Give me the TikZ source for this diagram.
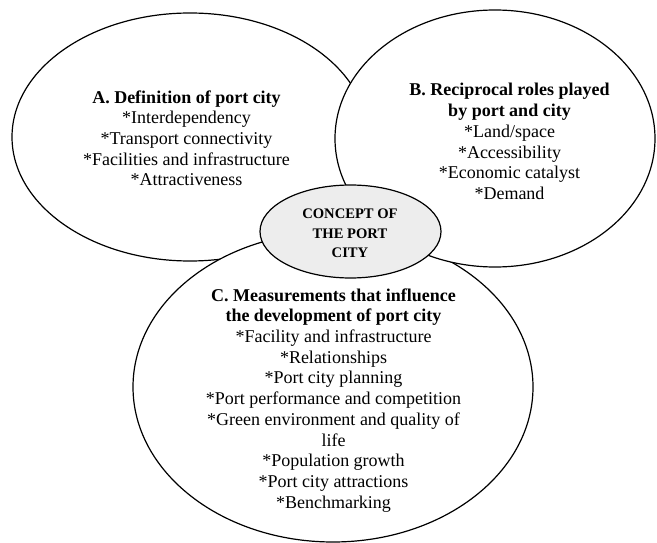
\documentclass[tikz,border=0pt]{standalone}
\usepackage{fontspec}
\setmainfont{Liberation Serif}
\newfontfamily\tnr{Liberation Serif}
\usetikzlibrary{shapes.geometric}
\begin{document}
\begin{tikzpicture}[x=1pt,y=-1pt,
  bubble/.style={draw=black, line width=1.2pt, ellipse, fill=white, inner sep=0pt, outer sep=0pt},
  bodytext/.style={align=center, inner sep=0pt, font=\tnr\fontsize{18}{20.7}\selectfont},
  coretext/.style={align=center, inner sep=0pt, font=\tnr\fontsize{14.6}{19.5}\selectfont\bfseries}]
\useasboundingbox (0,0) rectangle (657,543);
\node[bubble, minimum width=356pt, minimum height=248pt] (A) at (190,137) {};
\node[bubble, minimum width=400pt, minimum height=310pt] (C) at (333,387) {};
\node[bubble, minimum width=320pt, minimum height=257pt] (B) at (495,138.5) {};
\node[bubble, fill=black!7, minimum width=181pt, minimum height=93pt] (K) at (350.5,231.5) {};
\node[bodytext] (At) at (186.5,138.3) {\textbf{A. Definition of port city}\\*Interdependency\\*Transport connectivity\\*Facilities and infrastructure\\*Attractiveness};
\node[bodytext] (Bt) at (509.5,141.5) {\textbf{B. Reciprocal roles played}\\\textbf{by port and city}\\*Land/space\\*Accessibility\\*Economic catalyst\\*Demand};
\node[bodytext] (Ct) at (333.5,400.3) {\textbf{C. Measurements that influence}\\\textbf{the development of port city}\\*Facility and infrastructure\\*Relationships\\*Port city planning\\*Port performance and competition\\*Green environment and quality of\\life\\*Population growth\\*Port city attractions\\*Benchmarking};
\node[coretext] (Kt) at (350,233.5) {CONCEPT OF\\THE PORT\\CITY};
\end{tikzpicture}
\end{document}
